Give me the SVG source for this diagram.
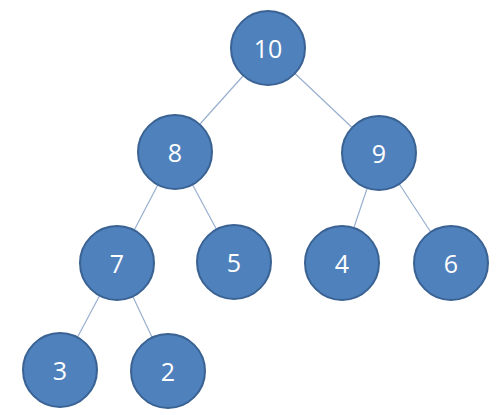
<svg xmlns="http://www.w3.org/2000/svg" width="500" height="415" viewBox="0 0 500 415">
<style>
.n circle{fill:#4F81BD;stroke:#3A6293;stroke-width:2}
.n text{fill:#fff;font-family:"Open Sans","Liberation Sans",sans-serif;font-size:25px;text-anchor:middle;dominant-baseline:central}
.e line{stroke:#98AFCF;stroke-width:1.2}
</style>
<rect width="500" height="415" fill="#fff"/>
<g id="edges" class="e">
<line x1="268" y1="48" x2="175" y2="152"/>
<line x1="268" y1="48" x2="379" y2="153"/>
<line x1="175" y1="152" x2="117" y2="263"/>
<line x1="175" y1="152" x2="234" y2="262"/>
<line x1="379" y1="153" x2="342" y2="263"/>
<line x1="379" y1="153" x2="451" y2="263"/>
<line x1="117" y1="263" x2="60" y2="370"/>
<line x1="117" y1="263" x2="168" y2="371"/>
</g>
<g id="n10" class="n"><circle cx="268" cy="48" r="37"/><text x="268" y="48">10</text></g>
<g id="n8" class="n"><circle cx="175" cy="152" r="37"/><text x="175" y="152">8</text></g>
<g id="n9" class="n"><circle cx="379" cy="153" r="37"/><text x="379" y="153">9</text></g>
<g id="n7" class="n"><circle cx="117" cy="263" r="37"/><text x="117" y="263">7</text></g>
<g id="n5" class="n"><circle cx="234" cy="262" r="37"/><text x="234" y="262">5</text></g>
<g id="n4" class="n"><circle cx="342" cy="263" r="37"/><text x="342" y="263">4</text></g>
<g id="n6" class="n"><circle cx="451" cy="263" r="37"/><text x="451" y="263">6</text></g>
<g id="n3" class="n"><circle cx="60" cy="370" r="37"/><text x="60" y="370">3</text></g>
<g id="n2" class="n"><circle cx="168" cy="371" r="37"/><text x="168" y="371">2</text></g>
</svg>
